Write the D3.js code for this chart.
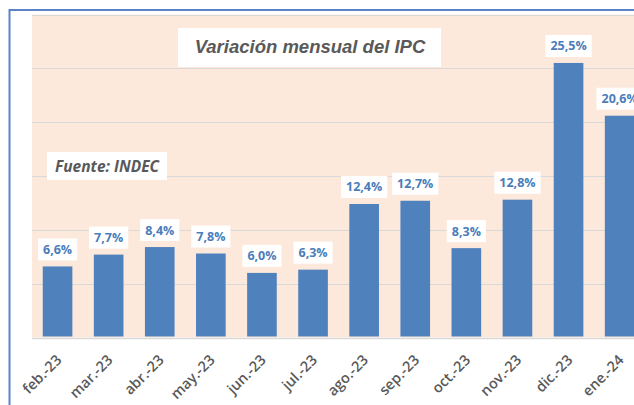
<!DOCTYPE html>
<html>
<head>
<meta charset="utf-8">
<script src="https://cdn.jsdelivr.net/npm/d3@7"></script>
<style>
  html, body { margin: 0; padding: 0; background: #fff; }
  svg { display: block; }
</style>
</head>
<body>
<svg id="chart" width="634" height="405"></svg>
<script>
const months = ["feb.-23", "mar.-23", "abr.-23", "may.-23", "jun.-23", "jul.-23",
  "ago.-23", "sep.-23", "oct.-23", "nov.-23", "dic.-23", "ene.-24"]
const ipc = [6.6, 7.7, 8.4, 7.8, 6.0, 6.3, 12.4, 12.7, 8.3, 12.8, 25.5, 20.6]
const yTicks = [0, 5, 10, 15, 20, 25, 30]
const title = "Variación mensual del IPC"
const source = "Fuente: INDEC"

const data = months.map((m, i) => ({ month: m, value: ipc[i] }))
const fmt = v => d3.format(".1f")(v).replace(".", ",") + "%"

const svg = d3.select("#chart")

// outer chart border (blue, left and top)
svg.append("path")
  .attr("d", "M9.5,405 V10 H634")
  .attr("fill", "none")
  .attr("stroke", "#5b84c8")
  .attr("stroke-width", 2)

const x = d3.scaleBand()
  .domain(months)
  .range([32, 645.2])
  .paddingInner(0.42)
  .paddingOuter(0.21)

const y = d3.scaleLinear()
  .domain([0, 30])
  .range([337.5, 14.5])

// plot area
svg.append("rect")
  .attr("x", 32)
  .attr("y", y(30))
  .attr("width", 620)
  .attr("height", y(0) - y(30))
  .attr("fill", "#fde9db")

svg.append("g")
  .attr("class", "grid")
  .selectAll("line")
  .data(yTicks)
  .enter()
  .append("line")
  .attr("x1", 32)
  .attr("x2", 650)
  .attr("y1", d => Math.round(y(d)) + 0.5)
  .attr("y2", d => Math.round(y(d)) + 0.5)
  .attr("stroke", "#d9d9d9")
  .attr("stroke-width", d => (d === 0 ? 1.5 : 1.2))

svg.append("g")
  .attr("class", "bars")
  .selectAll("rect")
  .data(data)
  .enter()
  .append("rect")
  .attr("x", d => x(d.month))
  .attr("y", d => y(d.value))
  .attr("width", x.bandwidth())
  .attr("height", d => y(0) - y(d.value) - 1)
  .attr("fill", "#4f81bd")

// data labels with white boxes
const labels = svg.append("g")
  .attr("class", "labels")
  .selectAll("g")
  .data(data)
  .enter()
  .append("g")
  .attr("transform", d => "translate(" + (x(d.month) + x.bandwidth() / 2) + "," + (y(d.value) - 17) + ")")

labels.append("rect").attr("fill", "#fff")
labels.append("text")
  .attr("text-anchor", "middle")
  .attr("dy", "0.36em")
  .attr("font-family", "'Open Sans', sans-serif")
  .attr("font-weight", "bold")
  .attr("font-size", 12.5)
  .attr("fill", "#4a7dba")
  .text(d => fmt(d.value))

labels.each(function () {
  const g = d3.select(this)
  const w = g.select("text").node().getComputedTextLength() + 10
  g.select("rect")
    .attr("x", -w / 2)
    .attr("y", -11)
    .attr("width", w)
    .attr("height", 22)
})

// category axis labels
svg.append("g")
  .attr("class", "x-labels")
  .selectAll("text")
  .data(months)
  .enter()
  .append("text")
  .attr("transform", d => "translate(" + (x(d) + x.bandwidth() / 2 + 5) + ",361) rotate(-45)")
  .attr("text-anchor", "end")
  .attr("font-family", "'Open Sans', sans-serif")
  .attr("font-weight", 600)
  .attr("font-size", 14.5)
  .attr("fill", "#595959")
  .text(d => d)

// title box
const tg = svg.append("g").attr("transform", "translate(310,46)")
tg.append("rect")
  .attr("x", -132)
  .attr("y", -18)
  .attr("width", 263)
  .attr("height", 39)
  .attr("fill", "#fff")
tg.append("text")
  .attr("text-anchor", "middle")
  .attr("dy", "0.36em")
  .attr("font-family", "'Liberation Sans', Arial, sans-serif")
  .attr("font-style", "italic")
  .attr("font-weight", "bold")
  .attr("font-size", 18.5)
  .attr("fill", "#595959")
  .text(title)

// source box
const sg = svg.append("g").attr("transform", "translate(107,166)")
sg.append("rect")
  .attr("x", -60)
  .attr("y", -14)
  .attr("width", 120)
  .attr("height", 28)
  .attr("fill", "#fff")
sg.append("text")
  .attr("text-anchor", "middle")
  .attr("dy", "0.36em")
  .attr("font-family", "'Open Sans', sans-serif")
  .attr("font-style", "italic")
  .attr("font-weight", "bold")
  .attr("font-size", 15.5)
  .attr("fill", "#595959")
  .text(source)
</script>
</body>
</html>
